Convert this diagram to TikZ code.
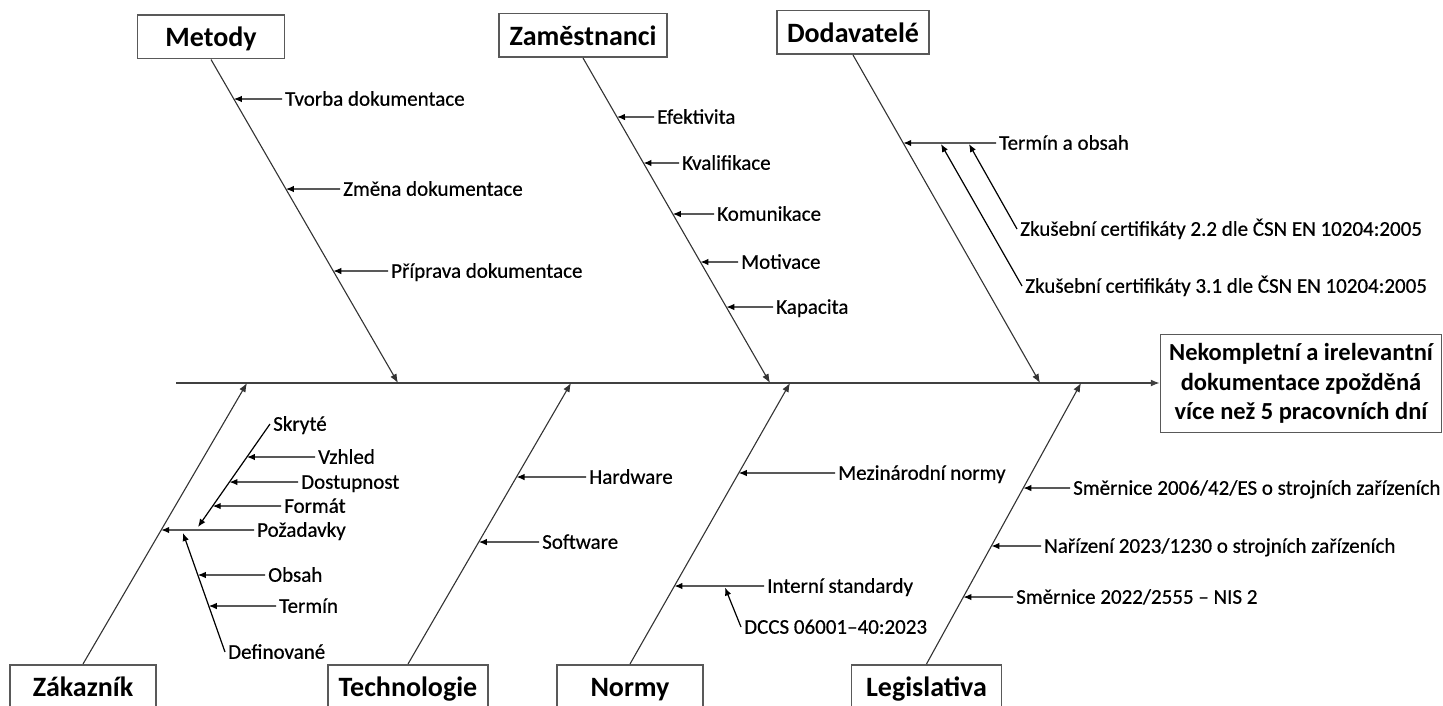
\documentclass[tikz,border=0pt]{standalone}
\usepackage{fontspec}
\setmainfont{Carlito}
\newfontfamily\labfont{Carlito}[FakeBold=0.5]
\usetikzlibrary{arrows.meta,calc}

% a small arrow from a label to the point where its level meets a bone
\newcommand\twig[3]{%
  \draw[twig] (#3.west) -- (intersection of #1--#2 and #3.west--#3.east);}

\begin{document}
\begin{tikzpicture}[x=1pt,y=-1pt,
  catbox/.style={draw=black!65, line width=1.5pt, fill=white,
    minimum height=43.5pt, inner sep=0pt, text height=20pt, text depth=0pt,
    font=\fontsize{28}{32}\selectfont\bfseries},
  effectbox/.style={draw=black!65, line width=1.5pt, fill=white,
    minimum width=281pt, minimum height=98pt, inner sep=0pt, align=center,
    font=\fontsize{24.5}{29.5}\selectfont\bfseries},
  spine/.style={draw=black!75, line width=1.4pt, -{Latex[length=9pt,width=7pt]}},
  bone/.style={draw=black!80, line width=1.1pt, -{Latex[length=9pt,width=7pt]}},
  twig/.style={draw=black, line width=1.2pt, -{Latex[length=8pt,width=6.5pt]}},
  lab/.style={anchor=west, inner xsep=3pt, inner ysep=0pt,
    text height=13.5pt, text depth=0pt,
    font=\labfont\fontsize{21}{25}\selectfont},
]
\useasboundingbox (0,0) rectangle (1443,706);
\clip (0,0) rectangle (1443,706);

% effect and spine
\node[effectbox] (effect) at (1301,383.5)
  {Nekompletní a irelevantní\\dokumentace zpožděná\\více než 5 pracovních dní};
\coordinate (spinestart) at (176,383);
\draw[spine] (spinestart) -- (spinestart -| effect.west);

% category boxes
\node[catbox, minimum width=147pt] (metody) at (211,37) {Metody};
\node[catbox, minimum width=168pt] (zam) at (583,35.5) {Zaměstnanci};
\node[catbox, minimum width=152pt] (dod) at (853,32.5) {Dodavatelé};
\node[catbox, minimum width=146pt] (zak) at (83,686.5) {Zákazník};
\node[catbox, minimum width=160pt] (tech) at (408,686.5) {Technologie};
\node[catbox, minimum width=146pt] (normy) at (630,686.5) {Normy};
\node[catbox, minimum width=150pt] (legis) at (926.5,686.5) {Legislativa};

% where the bones meet the spine
\coordinate (mtip) at (398,383);
\coordinate (ztip) at (770,383);
\coordinate (dtip) at (1040,383);
\coordinate (ktip) at (247,383);
\coordinate (ttip) at (571,383);
\coordinate (ntip) at (790,383);
\coordinate (ltip) at (1081,383);

\draw[bone] (metody.south) -- (mtip);
\draw[bone] (zam.south) -- (ztip);
\draw[bone] (dod.south) -- (dtip);
\draw[bone] (zak.north) -- (ktip);
\draw[bone] (tech.north) -- (ttip);
\draw[bone] (normy.north) -- (ntip);
\draw[bone] (legis.north) -- (ltip);

% Metody
\node[lab] (m1) at (282,99) {Tvorba dokumentace};
\node[lab] (m2) at (340,189) {Změna dokumentace};
\node[lab] (m3) at (388,271) {Příprava dokumentace};
\twig{metody.south}{mtip}{m1}
\twig{metody.south}{mtip}{m2}
\twig{metody.south}{mtip}{m3}

% Zaměstnanci
\node[lab] (z1) at (654,117) {Efektivita};
\node[lab] (z2) at (679,163) {Kvalifikace};
\node[lab] (z3) at (714,214) {Komunikace};
\node[lab] (z4) at (738,262) {Motivace};
\node[lab] (z5) at (773,307) {Kapacita};
\twig{zam.south}{ztip}{z1}
\twig{zam.south}{ztip}{z2}
\twig{zam.south}{ztip}{z3}
\twig{zam.south}{ztip}{z4}
\twig{zam.south}{ztip}{z5}

% Dodavatelé
\node[lab] (d1) at (996,143) {Termín a obsah};
\twig{dod.south}{dtip}{d1}
\node[lab] (d2) at (1017,229) {Zkušební certifikáty 2.2 dle ČSN EN 10204:2005};
\node[lab] (d3) at (1022,286) {Zkušební certifikáty 3.1 dle ČSN EN 10204:2005};
\coordinate (d2tip) at (969,144);
\coordinate (d3tip) at (941,144);
\draw[twig] (d2.west) -- (d2tip);
\draw[twig] (d3.west) -- (d3tip);

% Zákazník
\node[lab] (k0) at (254,530) {Požadavky};
\twig{zak.north}{ktip}{k0}
\coordinate (kup) at (198,527);
\coordinate (klo) at (183,533);
\node[lab] (ks) at (270,424) {Skryté};
\draw[twig] (ks.west) -- (kup);
\node[lab] (kv) at (315,457) {Vzhled};
\node[lab] (kd) at (298,482) {Dostupnost};
\node[lab] (kf) at (281,506) {Formát};
\twig{ks.west}{kup}{kv}
\twig{ks.west}{kup}{kd}
\twig{ks.west}{kup}{kf}
\node[lab] (kdef) at (225,652) {Definované};
\draw[twig] (kdef.west) -- (klo);
\node[lab] (ko) at (265,575) {Obsah};
\node[lab] (kt) at (276,606) {Termín};
\twig{kdef.west}{klo}{ko}
\twig{kdef.west}{klo}{kt}

% Technologie
\node[lab] (t1) at (586,477) {Hardware};
\node[lab] (t2) at (539,542) {Software};
\twig{tech.north}{ttip}{t1}
\twig{tech.north}{ttip}{t2}

% Normy
\node[lab] (n1) at (835,473) {Mezinárodní normy};
\node[lab] (n2) at (764,586) {Interní standardy};
\twig{normy.north}{ntip}{n1}
\twig{normy.north}{ntip}{n2}
\node[lab] (n3) at (741,627) {DCCS 06001–40:2023};
\coordinate (n3tip) at (725,587.5);
\draw[twig] (n3.west) -- (n3tip);

% Legislativa
\node[lab] (l1) at (1070,488) {Směrnice 2006/42/ES o strojních zařízeních};
\node[lab] (l2) at (1041,546) {Nařízení 2023/1230 o strojních zařízeních};
\node[lab] (l3) at (1013,597) {Směrnice 2022/2555 – NIS 2};
\twig{legis.north}{ltip}{l1}
\twig{legis.north}{ltip}{l2}
\twig{legis.north}{ltip}{l3}
\end{tikzpicture}
\end{document}
